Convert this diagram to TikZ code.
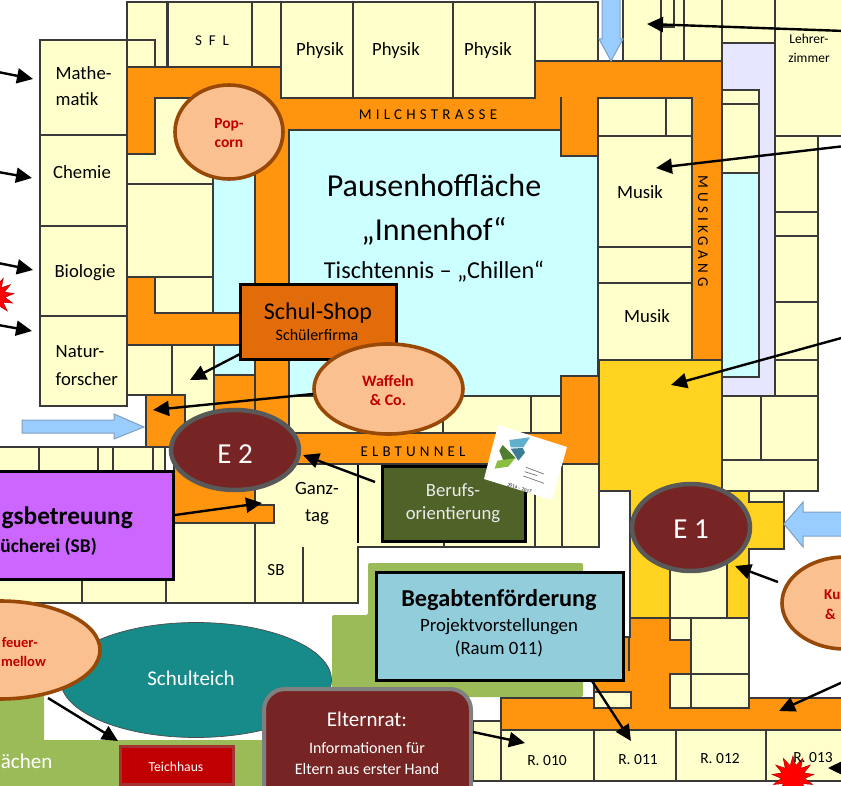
\documentclass[tikz,border=0pt]{standalone}
\usepackage{fontspec}
\setmainfont{Carlito}
\newfontfamily\spaced[LetterSpace=28]{Carlito}
\usetikzlibrary{arrows.meta,shapes.geometric}
\definecolor{roomy}{HTML}{FFFFCC}
\definecolor{wall}{HTML}{3A3A3A}
\definecolor{corr}{HTML}{FF950E}
\definecolor{yard}{HTML}{CCFFFF}
\definecolor{lav}{HTML}{E6E6FF}
\definecolor{gold}{HTML}{FFD320}
\definecolor{lawn}{HTML}{9BBB59}
\definecolor{peach}{HTML}{FAC090}
\definecolor{peachb}{HTML}{984807}
\definecolor{wine}{HTML}{772424}
\definecolor{skyb}{HTML}{99CCFF}
\definecolor{skyl}{HTML}{7F9FBF}
\definecolor{redt}{HTML}{C00000}
\definecolor{pondc}{HTML}{178A8A}
\tikzset{
  x=1pt,y=-1pt,
  room/.style={fill=roomy,draw=wall,line width=1.2pt},
  corrpoly/.style={fill=corr,draw=wall,line width=1.2pt},
  lbl/.style={anchor=base,inner sep=0pt,text=black,font=\fontsize{#1}{#1}\selectfont},
  lbll/.style={lbl=#1,anchor=base west},
  lblr/.style={lbl=#1,anchor=base east},
  blbl/.style={lbl=#1,font=\fontsize{#1}{#1}\selectfont\bfseries},
  blblr/.style={blbl=#1,anchor=base east},
  slbl/.style={anchor=base,inner sep=0pt,text=black,font=\fontsize{15}{15}\spaced},
  snack/.style={ellipse,fill=peach,draw=peachb,line width=3.6pt,inner sep=0pt},
  door/.style={ellipse,fill=wine,draw=black!65,line width=4.5pt,inner sep=0pt},
  bigbox/.style={draw=black,line width=3pt,inner sep=0pt},
  pointer/.style={draw=black,line width=2.4pt,-{Triangle[length=16pt,width=15pt]}},
  flow/.style={fill=skyb,draw=skyl,line width=1pt},
  burst/.style={star,star points=13,star point ratio=1.8,fill=red,draw=red!70!black,line width=.5pt,inner sep=0pt},
}
\begin{document}
\begin{tikzpicture}
\useasboundingbox (0,0) rectangle (841,786);
\clip (0,0) rectangle (841,786);
\fill[white] (0,0) rectangle (841,786);
% green areas
\fill[lawn,rounded corners=2pt] (368,563) -- (583,563) -- (583,697) -- (473,697) -- (332,697) -- (332,615) -- (368,615) -- cycle;
\fill[lawn] (0,690) -- (44,690) -- (44,740) -- (270,740) -- (270,786) -- (0,786) -- cycle;
% lavender and court
\fill[lav,draw=wall,line width=1.2pt] (722,43) rectangle (775,396);
\fill[yard,draw=wall,line width=1.2pt] (722,173) rectangle (759,377);
\fill[yard,draw=wall,line width=1.2pt] (289,130) rectangle (598,396);
\fill[yard,draw=wall,line width=1.2pt] (213,165) rectangle (255,376);
% rooms top
\draw[room] (127,2) rectangle (167,67);
\draw[room] (168,2) rectangle (252,67);
\draw[room] (252,2) rectangle (281,67);
\draw[room] (281,2) rectangle (353,98);
\draw[room] (353,2) rectangle (453,98);
\draw[room] (453,2) rectangle (535,98);
\draw[room] (535,2) rectangle (598,61);
\draw[room] (623,-2) rectangle (661,61);
\draw[room] (661,-2) rectangle (684,61);
\draw[room] (661,-2) rectangle (674,27);
\draw[room] (684,-2) rectangle (722,61);
\draw[room] (722,-2) rectangle (775,43);
\draw[room] (775,-2) rectangle (845,136);
\draw[room] (722,90) rectangle (759,104);
\draw[room] (722,104) rectangle (759,173);
\draw[room] (775,136) rectangle (818,212);
\draw[room] (775,212) rectangle (818,236);
\draw[room] (775,236) rectangle (818,302);
\draw[room] (775,302) rectangle (818,360);
\draw[room] (775,360) rectangle (818,396);
\draw[room] (722,396) rectangle (761,460);
\draw[room] (761,396) rectangle (818,460);
\draw[room] (722,460) rectangle (818,491);
\draw[room] (749,491) rectangle (784,502);
% left wing
\draw[room] (127,40) rectangle (155,67);
\draw[room] (40,40) rectangle (127,135);
\draw[room] (40,135) rectangle (127,226);
\draw[room] (40,226) rectangle (127,316);
\draw[room] (40,316) rectangle (127,406);
\draw[room] (127,98) rectangle (255,165);
\draw[room] (127,98) rectangle (213,184);
\draw[room] (127,184) rectangle (213,277);
\draw[room] (155,277) rectangle (213,313);
\draw[room] (127,345) rectangle (172,395);
\draw[room] (172,345) rectangle (214,432);
% music
\draw[room] (598,98) rectangle (666,136);
\draw[room] (666,98) rectangle (692,136);
\draw[room] (598,136) rectangle (692,247);
\draw[room] (598,247) rectangle (692,283);
\draw[room] (598,283) rectangle (692,360);
% south of the court
\draw[room] (289,396) rectangle (443,433);
\draw[room] (443,396) rectangle (531,433);
\draw[room] (531,396) rectangle (561,433);
% south-west
\draw[room] (-3,447) rectangle (39,480);
\draw[room] (39,447) rectangle (98,480);
\draw[room] (98,447) rectangle (113,480);
\draw[room] (113,447) rectangle (153,480);
\draw[room] (153,447) rectangle (165,480);
\fill[roomy] (-3,480) rectangle (255,603);
\draw[room] (-3,523) rectangle (82,603);
\draw[room] (82,523) rectangle (166,603);
\draw[room] (166,523) rectangle (255,603);
\draw[room] (255,464) -- (599,464) -- (599,547) -- (358,547) -- (358,603) -- (255,603) -- cycle;
\draw[wall,line width=1.2pt] (303,547) -- (303,603);
\draw[wall,line width=1.2pt] (535,464) -- (535,547);
\draw[wall,line width=1.2pt] (562,464) -- (562,547);
\draw[wall,line width=1.2pt] (444,541) -- (444,547);
\draw[black,line width=1.8pt] (358,464) -- (358,543);
% corridors
\draw[corrpoly] (127,67) -- (281,67) -- (281,98) -- (535,98) -- (535,61) -- (722,61) -- (722,360) -- (692,360) -- (692,98) -- (598,98) -- (598,156) -- (561,156) -- (561,130) -- (289,130) -- (289,433) -- (561,433) -- (561,376) -- (599,376) -- (599,464) -- (255,464) -- (255,505) -- (274,505) -- (274,523) -- (174,523) -- (174,447) -- (146,447) -- (146,395) -- (185,395) -- (185,432) -- (214,432) -- (214,375) -- (255,375) -- (255,98) -- (155,98) -- (155,154) -- (127,154) -- cycle;
\draw[corrpoly] (127,277) -- (155,277) -- (155,313) -- (240,313) -- (240,345) -- (127,345) -- cycle;
\draw[wall,line width=1.2pt] (561,97) -- (561,130);
\draw[wall,line width=1.2pt] (255,360) -- (255,433);
% gold hall
\draw[fill=gold,draw=wall,line width=1.2pt] (599,360) -- (722,360) -- (722,491) -- (749,491) -- (749,502) -- (784,502) -- (784,549) -- (749,549) -- (749,618) -- (630,618) -- (630,491) -- (599,491) -- cycle;
\draw[room] (670,560) rectangle (727,618);
% east corridor and rooms
\draw[corrpoly] (630,618) -- (670,618) -- (670,640) -- (691,640) -- (691,674) -- (670,674) -- (670,708) -- (749,708) -- (749,698) -- (845,698) -- (845,730) -- (501,730) -- (501,698) -- (594,698) -- (594,637) -- (630,637) -- cycle;
\draw[wall,line width=1.2pt] (629,637) -- (629,671);
\draw[room] (670,618) rectangle (691,640);
\draw[room] (691,618) rectangle (749,674);
\draw[room] (670,674) rectangle (691,708);
\draw[room] (691,674) rectangle (749,708);
\draw[room] (594,692) rectangle (631,708);
\draw[room] (473,721) rectangle (501,781);
\draw[room] (501,730) rectangle (594,781);
\draw[room] (594,730) rectangle (676,781);
\draw[room] (676,730) rectangle (766,781);
\draw[room] (766,730) rectangle (845,781);
% blue arrows
\draw[flow] (602,-3) -- (620,-3) -- (620,39) -- (623,39) -- (611,61) -- (599,39) -- (602,39) -- cycle;
\draw[flow] (22,420) -- (114,420) -- (114,414) -- (144,427) -- (114,439) -- (114,433) -- (22,433) -- cycle;
\draw[flow] (845,512) -- (803,512) -- (803,502) -- (784,524) -- (803,547) -- (803,536) -- (845,536) -- cycle;
% pond, boxes
\node[ellipse,fill=pondc,draw=black!70,line width=.7pt,minimum width=271pt,minimum height=115pt,inner sep=0pt] (pond) at (196,680) {};
\node[bigbox,fill=redt,draw=redt!60!gray,line width=3pt,minimum width=113pt,minimum height=38pt] (teich) at (176.5,765) {};
\node[bigbox,fill={rgb,255:red,146;green,205;blue,220},minimum width=247pt,minimum height=108pt] (beg) at (499.5,626) {};
\node[bigbox,fill={rgb,255:red,227;green,108;blue,10},minimum width=156pt,minimum height=75pt] (shop) at (318,322.5) {};
\node[bigbox,fill={rgb,255:red,79;green,98;blue,40},minimum width=143pt,minimum height=75pt] (ber) at (453.5,504) {};
\node[bigbox,fill={rgb,255:red,204;green,102;blue,255},minimum width=184pt,minimum height=108pt] (purple) at (81,525.5) {};
\draw[fill=wine,draw=black!50,line width=4pt,rounded corners=21pt] (264,830) -- (264,689) -- (471,689) -- (471,830) -- cycle;
% logo
\fill[white] (498,425) -- (567,447) -- (552,500) -- (484,479) -- cycle;
\begin{scope}[shift={(420,390)},x=.3333pt,y=-.3333pt]
\fill[fill={rgb,255:red,95;green,175;blue,205}] (268,150) -- (330,142) -- (310,172) -- (272,172) -- cycle;
\fill[fill={rgb,255:red,60;green,125;blue,150}] (272,176) -- (308,174) -- (315,188) -- (295,212) -- cycle;
\fill[fill={rgb,255:red,80;green,125;blue,50}] (238,182) -- (248,165) -- (288,205) -- (250,212) -- cycle;
\fill[fill={rgb,255:red,140;green,190;blue,65}] (224,236) -- (232,212) -- (285,205) -- (265,230) -- cycle;
\draw[black!55,line width=.7pt] (318,232) -- (372,252) (314,245) -- (352,257) (310,258) -- (372,280);
\node[lbl=5,rotate=-17.5] (logodate) at (297,300) {2014 – 2017};
\end{scope}
% ellipses
\node[snack,minimum width=108pt,minimum height=94pt] (pop) at (229,132) {};
\node[snack,minimum width=149pt,minimum height=90pt] (waf) at (388.5,389) {};
\node[snack,minimum width=200pt,minimum height=98pt] (mel) at (0,650) {};
\node[snack,minimum width=126pt,minimum height=92pt] (kun) at (845,603) {};
\node[door,minimum width=128pt,minimum height=80pt] (e2) at (235,450) {};
\node[door,minimum width=118pt,minimum height=87pt] (e1) at (691,527.5) {};
% bursts
\node[burst,minimum size=42pt] (starb) at (793,777) {};
\node[burst,minimum size=40pt] (stara) at (-6,296) {};
% labels
\begin{scope}[yshift=-1pt]
\node[lbll=18.7] (t1) at (55.5,79) {Mathe-};
\node[lbll=18.7] (t2) at (55.5,105) {matik};
\node[lbl=18.7] (t3) at (82,178) {Chemie};
\node[lbl=18.7] (t4) at (85,277) {Biologie};
\node[lbll=18.7] (t5) at (55.5,357) {Natur-};
\node[lbll=18.7] (t6) at (55.5,384) {forscher};
\node[lbl=15] (t7) at (212,45) {S~~F~~L};
\node[lbl=18.7] (t8) at (320,55) {Physik};
\node[lbl=18.7] (t9) at (396,55) {Physik};
\node[lbl=18.7] (t10) at (488,55) {Physik};
\node[slbl] (t11) at (428,119) {MILCHSTRASSE};
\node[slbl,anchor=center,rotate=-90] (t12) at (703,230) {MUSIKGANG};
\node[slbl] (t13) at (413,455) {ELBTUNNEL};
\node[lbl=18.7] (t14) at (640,198) {Musik};
\node[lbl=18.7] (t15) at (647,322) {Musik};
\node[lbl=13.5] (t16) at (809,43) {Lehrer-};
\node[lbl=13.5] (t17) at (809,62) {zimmer};
\node[lbl=32] (t18) at (434,196) {Pausenhoffläche};
\node[lbl=32] (t19) at (434,240) {„Innenhof“};
\node[lbl=24.3] (t20) at (434,278) {Tischtennis – „Chillen“};
\node[blbl=15.5,text=redt] (t21) at (229,128) {Pop-};
\node[blbl=15.5,text=redt] (t22) at (229,147) {corn};
\node[lbl=24] (t23) at (318,319) {Schul-Shop};
\node[lbl=16] (t24) at (317,340) {Schülerfirma};
\node[blbl=16,text=redt] (t25) at (388,385) {Waffeln};
\node[blbl=16,text=redt] (t26) at (388,405) {\& Co.};
\node[lbl=29,text=white] (t27) at (235,462) {E 2};
\node[lbl=29,text=white] (t28) at (691,537) {E 1};
\node[lbl=18.7] (t29) at (317,493) {Ganz-};
\node[lbl=18.7] (t30) at (317,520) {tag};
\node[lbl=17] (t31) at (276,574) {SB};
\node[lbl=18.7,text=black!8!white] (t32) at (453,495) {Berufs-};
\node[lbl=18.7,text=black!8!white] (t33) at (453,518) {orientierung};
\node[blblr=25.3] (t34) at (133,523) {gsbetreuung};
\node[blblr=19.4] (t35) at (97,551) {ücherei (SB)};
\node[blblr=14.5,text=redt] (t36) at (38,646) {feuer-};
\node[blblr=14.5,text=redt] (t37) at (46,665) {mellow};
\node[lbl=21,text=white] (t38) at (191,684) {Schulteich};
\node[lbl=13.7,text=white] (t39) at (176,770) {Teichhaus};
\node[lbl=21,text=white] (t40) at (367,725) {Elternrat:};
\node[lbl=16,text=white] (t41) at (367,752) {Informationen für};
\node[lbl=16,text=white] (t42) at (367,773) {Eltern aus erster Hand};
\node[lblr=21,text=white] (t43) at (52.5,767) {ächen};
\node[blbl=24.3] (t44) at (499,605) {Begabtenförderung};
\node[lbl=18.8] (t45) at (499,630) {Projektvorstellungen};
\node[lbl=18.8] (t46) at (499,653) {(Raum 011)};
\node[lbl=15.5] (t47) at (547,764) {R. 010};
\node[lbl=15.5] (t48) at (638,763) {R. 011};
\node[lbl=15.5] (t49) at (720,762) {R. 012};
\node[lbl=15.5] (t50) at (813,761) {R. 013};
\node[blbl=15,text=redt,anchor=base west] (t51) at (824,598) {Ku};
\node[blbl=15,text=redt,anchor=base west] (t52) at (825,618) {\&};
\end{scope}
% connector end points
\coordinate (c1) at (-2,72); \coordinate (c1e) at (33,79);
\coordinate (c2) at (-2,172); \coordinate (c2e) at (32,178);
\coordinate (c3) at (-2,263); \coordinate (c3e) at (33,270);
\coordinate (c4) at (-2,325); \coordinate (c4e) at (32,331);
\coordinate (c5) at (845,31); \coordinate (c5e) at (647,24);
\coordinate (c6) at (845,146); \coordinate (c6e) at (656,168);
\coordinate (c7) at (845,337); \coordinate (c7e) at (671,385);
\coordinate (c8) at (240,354); \coordinate (c8e) at (190,380);
\coordinate (c9) at (313,394); \coordinate (c9e) at (153,410);
\coordinate (c10) at (175,515); \coordinate (c10e) at (262,503);
\coordinate (c11) at (375,482); \coordinate (c11e) at (303,455);
\coordinate (c12) at (592,681); \coordinate (c12e) at (631,741);
\coordinate (c13) at (473,732); \coordinate (c13e) at (525,743);
\coordinate (c14) at (48,698); \coordinate (c14e) at (118,741);
\coordinate (c15) at (778,582); \coordinate (c15e) at (735,566);
\coordinate (c16) at (845,681); \coordinate (c16e) at (779,711);
\coordinate (c17) at (845,768); \coordinate (c17e) at (828,768);
\foreach \n in {1,...,17} \draw[pointer] (c\n) -- (c\n e);
\end{tikzpicture}
\end{document}
